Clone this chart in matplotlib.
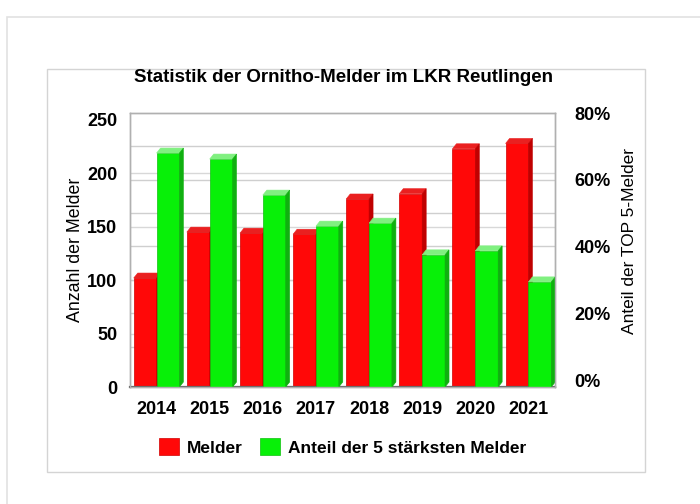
import matplotlib
matplotlib.use('Agg')
import matplotlib.pyplot as plt
from matplotlib.patches import Polygon, Rectangle
from matplotlib.transforms import blended_transform_factory, ScaledTranslation
import numpy as np

plt.rcParams['font.family'] = ['Liberation Sans', 'DejaVu Sans']

years = ['2014', '2015', '2016', '2017', '2018', '2019', '2020', '2021']
melder = [102, 145, 144, 143, 176, 181, 223, 228]
anteil = [70.1, 68.3, 57.5, 48.2, 49.1, 39.6, 40.8, 31.5]   # percent

W, H = 700, 504
fig = plt.figure(figsize=(W / 100, H / 100), dpi=100)
fig.patch.set_facecolor('white')

def fx(px):
    return px / W

def fy(py):
    return 1 - py / H

# page frame and chart frame
fig.add_artist(Rectangle((fx(7), fy(520)), 1.2, fy(17) - fy(520), transform=fig.transFigure,
                         fill=False, edgecolor='#e2e2e2', lw=1.2, zorder=-2))
fig.add_artist(Rectangle((fx(47), fy(472)), fx(645 - 47), fy(69) - fy(472),
                         transform=fig.transFigure, facecolor='white', edgecolor='#d4d4d4',
                         lw=1, zorder=-1))

ax = fig.add_axes([fx(130), fy(387), fx(555 - 130), fy(113) - fy(387)])
ax2 = ax.twinx()

x = np.arange(len(years))
bw = 0.43
ax.set_xlim(-0.5, len(years) - 0.5)
ax.set_ylim(0, 256.5)
ax2.set_ylim(0, 82.1)

# grid lines (both axis scales, like the 3D wall lines)
ax.hlines([50, 100, 150, 200], 0, 1, transform=blended_transform_factory(ax.transAxes, ax.transData),
          color='#d8d8d8', lw=1, zorder=0)
ax.hlines([12.1, 22.1, 32.1, 42.1, 52.1, 62.1, 72.1], 0, 1,
          transform=blended_transform_factory(ax.transAxes, ax2.transData),
          color='#cfcfcf', lw=1, zorder=0)

red, red_top, red_side = '#ff0808', '#ea2020', '#c00000'
green, green_top, green_side = '#08f008', '#80f080', '#10b010'

bars_r = ax.bar(x - bw / 2, melder, bw, color=red, edgecolor='#d00000', lw=0.5, zorder=2)
bars_g = ax2.bar(x + bw / 2, anteil, bw, color=green, edgecolor='#10c010', lw=0.5, zorder=2)

# 3D caps and side faces, built from the bar rectangles
dx, dy = 4, 5
inv = fig.transFigure.inverted()

def add_3d(axis, bars, top_c, side_c):
    for b in bars:
        x0, y0 = axis.transData.transform((b.get_x(), 0))
        x1, y1 = axis.transData.transform((b.get_x() + b.get_width(), b.get_height()))
        top = [(x0, y1), (x1, y1), (x1 + dx, y1 + dy), (x0 + dx, y1 + dy)]
        side = [(x1, y0), (x1 + dx, y0 + dy), (x1 + dx, y1 + dy), (x1, y1)]
        for pts, c in ((top, top_c), (side, side_c)):
            axis.add_patch(Polygon(inv.transform(pts), closed=True, transform=fig.transFigure,
                                   facecolor=c, edgecolor=c, lw=0.4, clip_on=False, zorder=2))

add_3d(ax, bars_r, red_top, red_side)
add_3d(ax2, bars_g, green_top, green_side)

for a in (ax, ax2):
    for s in a.spines.values():
        s.set_color('#b0b0b0')
        s.set_linewidth(1)
ax.spines['bottom'].set_color('#606060')
ax.spines['bottom'].set_linewidth(1.6)

ax.set_xticks(x)
ax.set_xticklabels(years, fontsize=13, fontweight='bold')
ax.set_yticks([0, 50, 100, 150, 200, 250])
ax.set_yticklabels(['0', '50', '100', '150', '200', '250'], fontsize=13, fontweight='bold')
ax2.set_yticks([0, 20, 40, 60, 80])
ax2.set_yticklabels(['0%', '20%', '40%', '60%', '80%'], fontsize=13, fontweight='bold')
ax.tick_params(axis='x', length=0, pad=10)
ax.tick_params(axis='y', length=0, pad=9)
ax2.tick_params(axis='y', length=0, pad=14)
# right labels sit on the back wall of the 3D chart, a bit higher
shift = ScaledTranslation(0, 7 / 100, fig.dpi_scale_trans)
for lbl in ax2.get_yticklabels():
    lbl.set_transform(lbl.get_transform() + shift)

ax.set_ylabel('Anzahl der Melder', fontsize=12.8, labelpad=2)
ax2.set_ylabel('Anteil der TOP 5-Melder', fontsize=12.5, labelpad=8)
ax2.yaxis.label.set_transform(ax2.yaxis.label.get_transform() + ScaledTranslation(0, 0.09, fig.dpi_scale_trans))

fig.text(fx(344), fy(78), 'Statistik der Ornitho-Melder im LKR Reutlingen',
         ha='center', va='center', fontsize=13.5, fontweight='bold')

leg = fig.legend([bars_r, bars_g], ['Melder', 'Anteil der 5 stärksten Melder'],
                 loc='center', bbox_to_anchor=(fx(343), fy(447)), ncol=2, frameon=False,
                 prop={'size': 12.5, 'weight': 'bold'}, handlelength=1.1, handleheight=1.1,
                 columnspacing=1.0, handletextpad=0.5)

fig.savefig('out.png', dpi=100)
